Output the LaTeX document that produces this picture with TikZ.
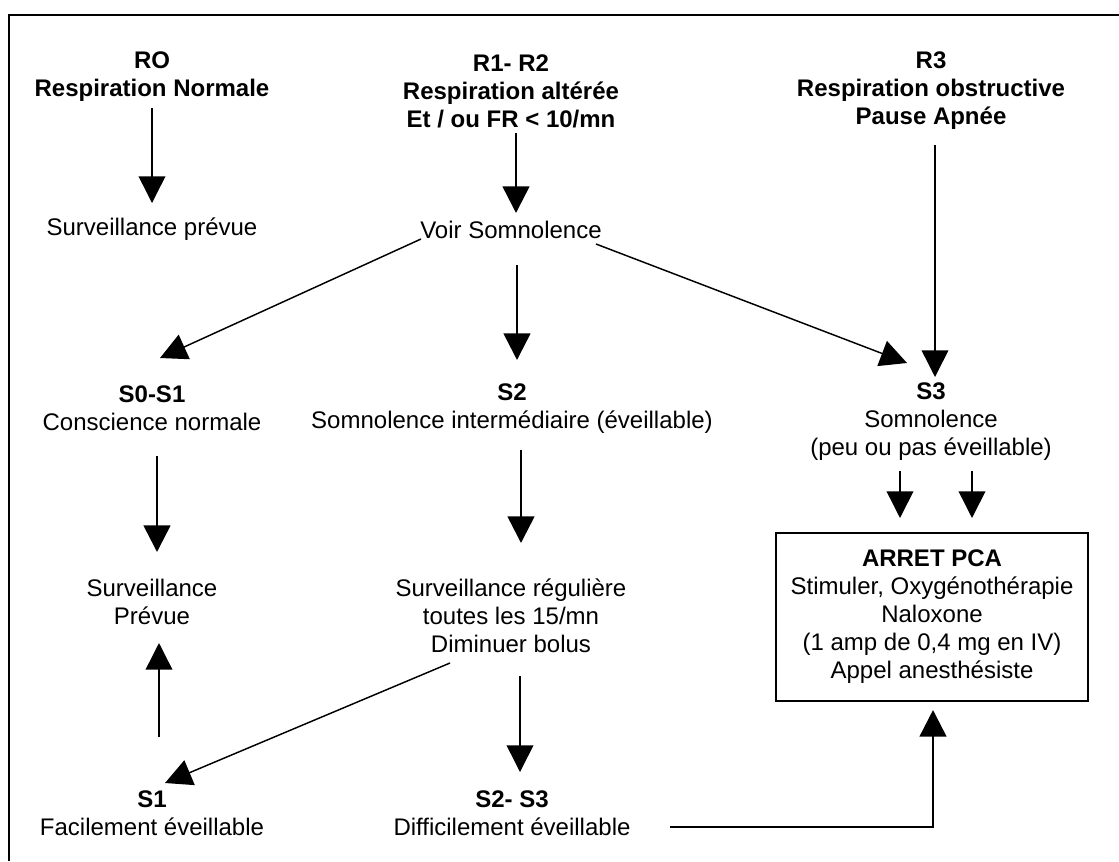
\documentclass[tikz,border=0pt]{standalone}
\usepackage{fontspec}
\setmainfont{Liberation Sans}
\usepackage{tikz}
\usetikzlibrary{arrows.meta}

\tikzset{
  txt/.style={align=center,inner sep=0pt,font=\fontsize{18pt}{21pt}\selectfont},
  titre/.style={txt,font=\fontsize{18pt}{21pt}\selectfont\bfseries},
  fin/.style={line width=1.1pt,-{Triangle[length=20pt,width=20pt]}},
  gros/.style={line width=1.9pt,-{Triangle[length=20pt,width=20pt]}}
}

\begin{document}
\begin{tikzpicture}[x=0.75pt,y=-0.75pt]
        \useasboundingbox (0,0) rectangle (1119,861);
        % Frame
        \draw[line width=1.5pt] (1119,15) -| (9,861);
        % Nodes
        \node(ro) at (152,77)[titre] {RO\\Respiration Normale};
        \node(rdeux) at (511,91)[titre] {R1- R2\\Respiration altérée\\Et / ou FR < 10/mn};
        \node(rtrois) at (931,91)[titre] {R3\\Respiration obstructive\\Pause Apnée};
        \node(survprevue) at (152,229)[txt] {Surveillance prévue};
        \node(voir) at (511,230)[txt] {Voir Somnolence};
        \node(szero) at (152,408.5)[txt] {\textbf{S0-S1}\\Conscience normale};
        \node(sdeux) at (512,408.5)[txt] {\textbf{S2}\\Somnolence intermédiaire (éveillable)};
        \node(strois) at (931,422)[txt] {\textbf{S3}\\Somnolence\\(peu ou pas éveillable)};
        \node(survP) at (152,601.5)[txt] {Surveillance\\Prévue};
        \node(survreg) at (511,616)[txt] {Surveillance régulière\\toutes les 15/mn\\Diminuer bolus};
        \node(arret) at (932,617)[txt,draw,line width=1.1pt,minimum width=234pt,minimum height=126pt] {\textbf{ARRET PCA}\\Stimuler, Oxygénothérapie\\Naloxone\\(1 amp de 0,4 mg en IV)\\Appel anesthésiste};
        \node(sun) at (152,813.5)[txt] {\textbf{S1}\\Facilement éveillable};
        \node(sdt) at (512,813.5)[txt] {\textbf{S2- S3}\\Difficilement éveillable};
        % Links
        \draw[fin] ([shift={(0,31)}]ro.center) -- ([shift={(0,-26)}]survprevue.center);
        \draw[gros] ([shift={(5,42)}]rdeux.center) -- ([shift={(5,-17)}]voir.center);
        \draw[fin] ([shift={(4,54)}]rtrois.center) -- ([shift={(4,-45)}]strois.center);
        \draw[fin] ([shift={(-90,9)}]voir.center) -- ([shift={(8,-50.5)}]szero.center);
        \draw[gros] ([shift={(6,35)}]voir.center) -- ([shift={(5,-48.5)}]sdeux.center);
        \draw[fin] ([shift={(85,14)}]voir.center) -- ([shift={(-24,-59)}]strois.center);
        \draw[gros] ([shift={(5,47.5)}]szero.center) -- ([shift={(5,-49.5)}]survP.center);
        \draw[gros] ([shift={(9,41.5)}]sdeux.center) -- ([shift={(10,-73)}]survreg.center);
        \draw[fin] ([shift={(-31,49)}]strois.center) -- ([shift={(-32,-99)}]arret.center);
        \draw[fin] ([shift={(41,49)}]strois.center) -- ([shift={(40,-99)}]arret.center);
        \draw[fin] ([shift={(7,-76.5)}]sun.center) -- ([shift={(7,41.5)}]survP.center);
        \draw[fin] ([shift={(-61,47)}]survreg.center) -- ([shift={(13,-30.5)}]sun.center);
        \draw[fin] ([shift={(9,60)}]survreg.center) -- ([shift={(8,-41.5)}]sdt.center);
        \draw[gros] ([shift={(158,13.5)}]sdt.center) -| ([shift={(1,93)}]arret.center);
\end{tikzpicture}
\end{document}
